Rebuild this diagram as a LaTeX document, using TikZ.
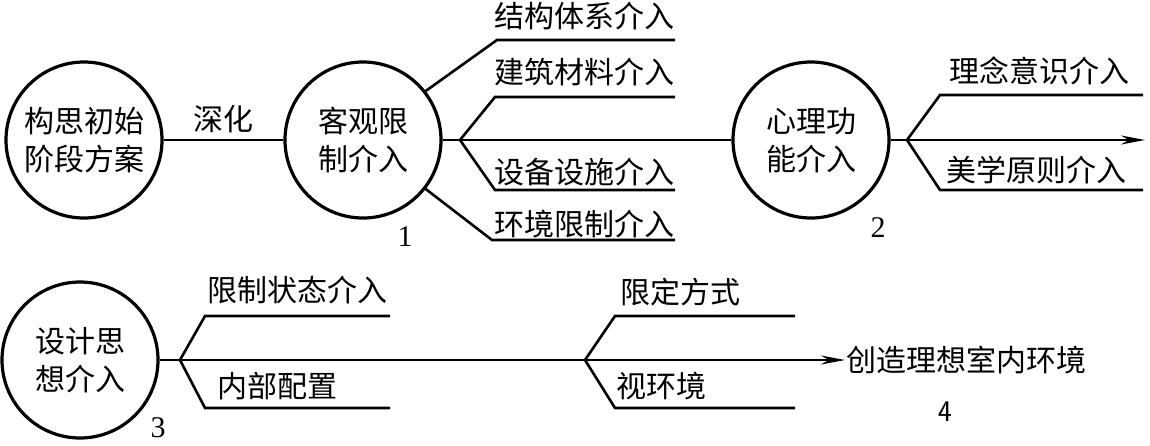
\documentclass[tikz,border=0pt]{standalone}
\usepackage{fontspec}
\setmainfont{Liberation Serif}
\newfontfamily\cjk{Noto Sans CJK SC}
\usetikzlibrary{arrows.meta}
\begin{document}
\begin{tikzpicture}[x=1pt,y=-1pt, line width=2.6pt,
  bub/.style={circle, draw, line width=3.2pt, minimum size=156pt, inner sep=0pt, align=center, font=\cjk\fontsize{30}{38}\selectfont},
  lab/.style={font=\cjk\fontsize{30}{32}\selectfont, inner sep=0pt, anchor=west},
  num/.style={font=\fontsize{30}{32}\selectfont, inner sep=0pt},
  arr/.style={-{Stealth[length=24pt,width=9pt]}}]
\useasboundingbox (0,0) rectangle (1150,445);
% circles
\node[bub] (c1) at (84,140) {构思初始\\阶段方案};
\node[bub] (c2) at (363,140) {客观限\\制介入};
\node[bub] (c3) at (811,140) {心理功\\能介入};
\node[bub] (c4) at (80,360) {设计思\\想介入};
% top row main line
\draw (c1) -- node[lab, anchor=center, yshift=21pt] (t0) {深化} (c2);
\draw (c2) -- (c3);
% branches of c2
\coordinate (b2) at (460,140);
\coordinate (p1) at (497,40);  \coordinate (q1) at (675,40);
\coordinate (p2) at (495,97);  \coordinate (q2) at (675,97);
\coordinate (p3) at (495,190); \coordinate (q3) at (675,190);
\coordinate (p4) at (492,240); \coordinate (q4) at (675,240);
\draw (c2.38) -- (p1) -- (q1);
\draw (b2) -- (p2) -- (q2);
\draw (b2) -- (p3) -- (q3);
\draw (c2.-38) -- (p4) -- (q4);
\node[lab] (l1) at (493,16) {结构体系介入};
\node[lab] (l2) at (493,72) {建筑材料介入};
\node[lab] (l3) at (493,172) {设备设施介入};
\node[lab] (l4) at (493,224) {环境限制介入};
\node[num] (n1) at (405,237) {1};
% c3 branches
\coordinate (e3) at (1145,140);
\draw[arr] (c3) -- (e3);
\coordinate (b3) at (907,140);
\coordinate (p5) at (940,95);  \coordinate (q5) at (1143,95);
\coordinate (p6) at (940,190); \coordinate (q6) at (1143,190);
\draw (b3) -- (p5) -- (q5);
\draw (b3) -- (p6) -- (q6);
\node[lab] (l5) at (948,71) {理念意识介入};
\node[lab] (l6) at (945,170) {美学原则介入};
\node[num] (n2) at (878,228) {2};
% bottom row
\node[lab] (l11) at (845,360) {创造理想室内环境};
\draw[arr] (c4) -- (l11.west);
\coordinate (b4) at (180,360);
\coordinate (p7) at (205,316); \coordinate (q7) at (390,316);
\coordinate (p8) at (205,408); \coordinate (q8) at (390,408);
\draw (b4) -- (p7) -- (q7);
\draw (b4) -- (p8) -- (q8);
\node[lab] (l7) at (206,290) {限制状态介入};
\node[lab] (l8) at (216,386) {内部配置};
\coordinate (b5) at (585,360);
\coordinate (p9) at (615,316); \coordinate (q9) at (795,316);
\coordinate (p10) at (615,408); \coordinate (q10) at (795,408);
\draw (b5) -- (p9) -- (q9);
\draw (b5) -- (p10) -- (q10);
\node[lab] (l9) at (619,292) {限定方式};
\node[lab] (l10) at (615,386) {视环境};
\node[num] (n3) at (158,428) {3};
\node[num, font=\sffamily\fontsize{30}{32}\selectfont] (n4) at (945,412) {4};
\end{tikzpicture}
\end{document}
